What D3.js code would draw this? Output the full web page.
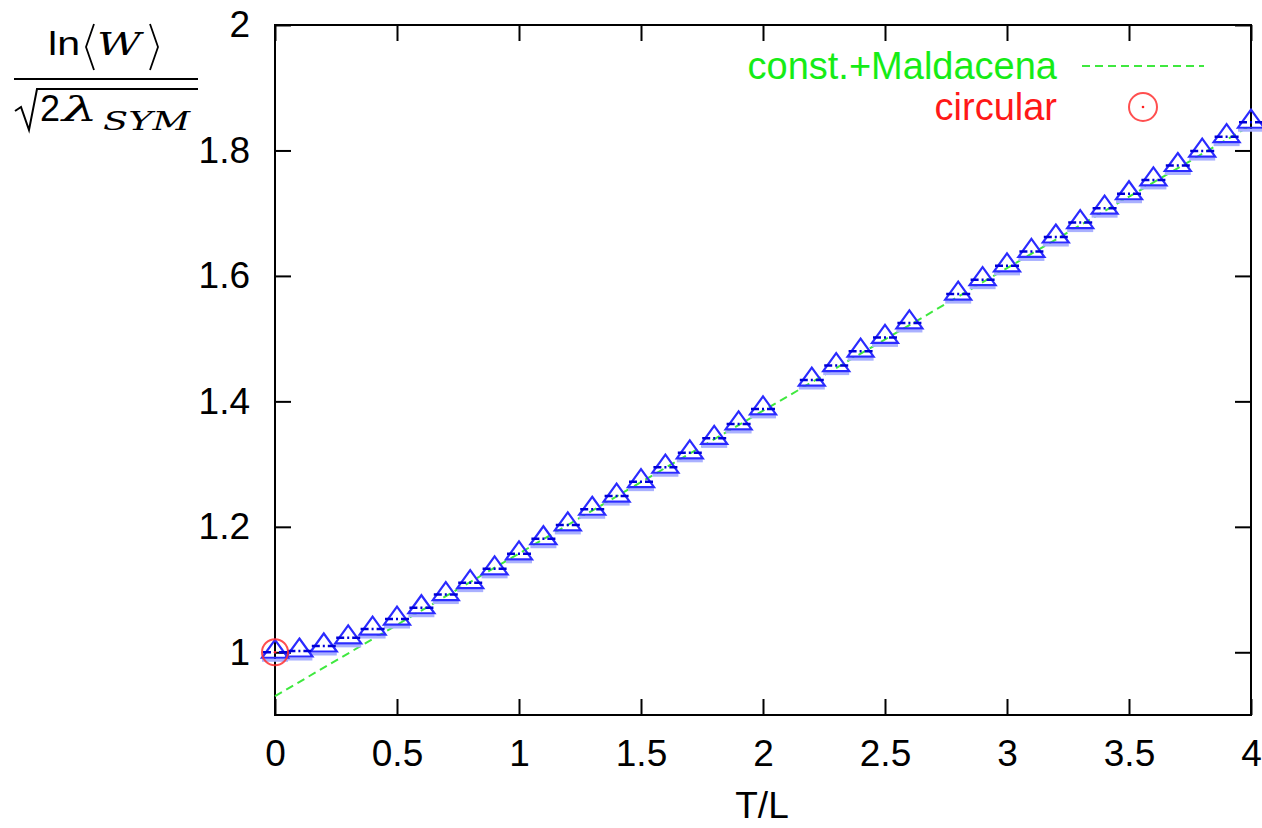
<!DOCTYPE html>
<html>
<head>
<meta charset="utf-8">
<script src="https://cdn.jsdelivr.net/npm/d3@7"></script>
<style>
  body { margin: 0; background: #fff; }
  svg { display: block; font-family: "Liberation Sans", Arial, sans-serif; }
</style>
</head>
<body>
<div id="chart"></div>
<script>
const width = 1262, height = 828;

// data
const tlValues = [0, 0.1, 0.2, 0.3, 0.4, 0.5, 0.6, 0.7, 0.8, 0.9, 1.0, 1.1, 1.2, 1.3, 1.4, 1.5,
  1.6, 1.7, 1.8, 1.9, 2.0, 2.2, 2.3, 2.4, 2.5, 2.6, 2.8, 2.9, 3.0, 3.1, 3.2, 3.3, 3.4, 3.5,
  3.6, 3.7, 3.8, 3.9, 4.0];
const lnWValues = [1.000, 1.002, 1.010, 1.023, 1.037, 1.053, 1.071, 1.092, 1.111, 1.133, 1.157,
  1.181, 1.203, 1.228, 1.249, 1.272, 1.295, 1.318, 1.341, 1.364, 1.388, 1.434, 1.457, 1.480,
  1.502, 1.525, 1.571, 1.594, 1.616, 1.639, 1.662, 1.685, 1.708, 1.731, 1.753, 1.776, 1.799,
  1.822, 1.845];
const maldacenaX = [0, 4];
const maldacenaY = [0.930, 1.840];
const circularX = [0];
const circularY = [1.0];
const xTicks = [0, 0.5, 1, 1.5, 2, 2.5, 3, 3.5, 4];
const yTicks = [1, 1.2, 1.4, 1.6, 1.8, 2];

const svg = d3.select("#chart").append("svg")
  .attr("width", width).attr("height", height);

const x = d3.scaleLinear().domain([0, 4]).range([275, 1251]);
const y = d3.scaleLinear().domain([0.9, 2]).range([715, 25]);
const fmt = d => String(+d.toFixed(1));

// axes (ticks pointing inward, mirrored on top/right)
const axisStyle = g => {
  g.select(".domain").remove();
  g.selectAll(".tick line").attr("stroke", "#000").attr("stroke-width", 2);
  g.selectAll(".tick text").attr("fill", "#000").style("font-size", "37px")
    .style("font-family", "'Liberation Sans', Arial, sans-serif");
};
svg.append("g").attr("transform", "translate(0,715)")
  .call(d3.axisBottom(x).tickValues(xTicks).tickFormat(fmt).tickSize(-16).tickPadding(25))
  .call(axisStyle);
svg.append("g").attr("transform", "translate(0,25)")
  .call(d3.axisTop(x).tickValues(xTicks).tickFormat("").tickSize(-16))
  .call(axisStyle);
svg.append("g").attr("transform", "translate(275,0)")
  .call(d3.axisLeft(y).tickValues(yTicks).tickFormat(fmt).tickSize(-16).tickPadding(25))
  .call(axisStyle);
svg.append("g").attr("transform", "translate(1251,0)")
  .call(d3.axisRight(y).tickValues(yTicks).tickFormat("").tickSize(-16))
  .call(axisStyle);

svg.append("rect")
  .attr("x", x(0)).attr("y", y(2))
  .attr("width", x(4) - x(0)).attr("height", y(0.9) - y(2))
  .attr("fill", "none").attr("stroke", "#000").attr("stroke-width", 2);

// const.+Maldacena line
const line = d3.line().x(d => x(d[0])).y(d => y(d[1]));
svg.append("path")
  .datum(d3.zip(maldacenaX, maldacenaY))
  .attr("d", line)
  .attr("fill", "none").attr("stroke", "#3fe83f").attr("stroke-width", 2)
  .attr("stroke-dasharray", "8,5");

// triangles
const pts = d3.zip(tlValues, lnWValues);
const tri = svg.append("g");
tri.selectAll("line.band").data(pts).join("line")
  .attr("class", "band")
  .attr("x1", d => x(d[0]) - 13).attr("x2", d => x(d[0]) + 13)
  .attr("y1", d => y(d[1]) + 8).attr("y2", d => y(d[1]) + 8)
  .attr("stroke", "#a9b0ff").attr("stroke-width", 3);
tri.selectAll("path").data(pts).join("path")
  .attr("d", d => {
    const cx = x(d[0]), cy = y(d[1]);
    return `M${cx},${cy - 12.5}L${cx + 13},${cy + 5.5}L${cx - 13},${cy + 5.5}Z`;
  })
  .attr("fill", "none").attr("stroke", "#2b2bff").attr("stroke-width", 2.2)
  .attr("stroke-linejoin", "miter");
tri.selectAll("line.dash").data(pts).join("line")
  .attr("class", "dash")
  .attr("x1", d => x(d[0]) - 12).attr("x2", d => x(d[0]) + 13)
  .attr("y1", d => y(d[1])).attr("y2", d => y(d[1]))
  .attr("stroke", "#0000d8").attr("stroke-width", 2.5)
  .attr("stroke-dasharray", "8,3,2,3");

// circular point
const circ = d3.zip(circularX, circularY);
svg.selectAll("circle.circ").data(circ).join("circle")
  .attr("class", "circ")
  .attr("cx", d => x(d[0])).attr("cy", d => y(d[1])).attr("r", 13)
  .attr("fill", "none").attr("stroke", "#ff3030").attr("stroke-width", 2).attr("opacity", 0.85);
svg.selectAll("circle.dot").data(circ).join("circle")
  .attr("class", "dot")
  .attr("cx", d => x(d[0])).attr("cy", d => y(d[1])).attr("r", 1.3).attr("fill", "#ff2020");

// legend
svg.append("text").attr("x", 1057).attr("y", 79).attr("text-anchor", "end")
  .attr("fill", "#16ec16").style("font-size", "38px").text("const.+Maldacena");
svg.append("line").attr("x1", 1082).attr("x2", 1204).attr("y1", 66).attr("y2", 66)
  .attr("stroke", "#3fe83f").attr("stroke-width", 2).attr("stroke-dasharray", "8,5");
svg.append("text").attr("x", 1057).attr("y", 120).attr("text-anchor", "end")
  .attr("fill", "#ff1818").style("font-size", "38px").text("circular");
svg.append("circle").attr("cx", 1143).attr("cy", 107).attr("r", 14)
  .attr("fill", "none").attr("stroke", "#ff3030").attr("stroke-width", 2).attr("opacity", 0.85);
svg.append("circle").attr("cx", 1143).attr("cy", 107).attr("r", 1.3).attr("fill", "#ff2020");

// x axis title
svg.append("text").attr("x", 762).attr("y", 818).attr("text-anchor", "middle")
  .attr("fill", "#000").style("font-size", "37px").text("T/L");

// y axis title: ln<W> / sqrt(2 lambda_SYM)
const yl = svg.append("g").attr("fill", "#000");
yl.append("text").attr("x", 48).attr("y", 55).style("font-size", "33px")
  .attr("textLength", 32).attr("lengthAdjust", "spacingAndGlyphs").text("ln");
yl.append("path").attr("d", "M94,24L86,47L94,70").attr("fill", "none")
  .attr("stroke", "#000").attr("stroke-width", 1.8);
yl.append("text").attr("x", 97).attr("y", 55)
  .style("font-family", "'DejaVu Serif', serif").style("font-style", "italic").style("font-size", "31px")
  .attr("textLength", 44).attr("lengthAdjust", "spacingAndGlyphs").text("W");
yl.append("path").attr("d", "M150,24L158,47L150,70").attr("fill", "none")
  .attr("stroke", "#000").attr("stroke-width", 1.8);
yl.append("line").attr("x1", 14).attr("x2", 198).attr("y1", 79).attr("y2", 79)
  .attr("stroke", "#000").attr("stroke-width", 2);
yl.append("path").attr("d", "M15,111L21,107L29,130L37,89L198,89").attr("fill", "none")
  .attr("stroke", "#000").attr("stroke-width", 2);
yl.append("text").attr("x", 40).attr("y", 121).style("font-size", "36px").text("2");
yl.append("text").attr("x", 62).attr("y", 121)
  .style("font-family", "'DejaVu Serif', serif").style("font-style", "italic").style("font-size", "34px")
  .attr("textLength", 36).attr("lengthAdjust", "spacingAndGlyphs").text("λ");
yl.append("text").attr("x", 103).attr("y", 130)
  .style("font-family", "'DejaVu Serif', serif").style("font-style", "italic").style("font-size", "26px")
  .attr("textLength", 87).attr("lengthAdjust", "spacingAndGlyphs").text("SYM");
</script>
</body>
</html>
